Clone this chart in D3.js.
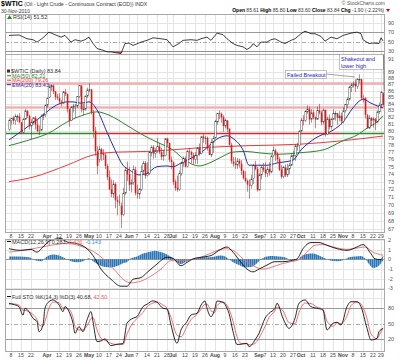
<!DOCTYPE html>
<html><head><meta charset="utf-8">
<script src="https://cdn.jsdelivr.net/npm/d3@7"></script>
<style>body{margin:0;background:#fff}svg{display:block}text{font-family:"Liberation Sans",Arial,sans-serif}</style>
</head><body><svg id="c" width="400" height="360"></svg>
<script>
// ---------- DATA ----------
const startDate = "2010-03-05", endDate = "2010-11-30";
const holidays = ["2010-04-02","2010-05-31","2010-07-05","2010-09-06","2010-11-25"];

const opens = [80.2,81.5,81.9,81.5,82.1,82.1,81.2,79.8,81.7,82.9,82.2,80.7,81.3,81.9,80.9,80.0,80.1,82.2,82.4,83.8,
85.0,86.6,86.8,85.9,85.1,84.9,84.3,84.1,85.8,85.5,83.2,81.5,83.5,83.7,83.7,85.1,86.8,83.2,83.2,85.2,
86.2,86.2,82.7,80.0,77.1,76.0,77.4,76.8,76.6,75.1,73.6,72.0,71.4,72.7,70.6,70.4,69.9,68.8,71.5,74.6,
74.0,72.6,72.9,74.6,71.5,71.4,72.0,74.4,75.5,73.8,74.1,76.9,77.7,76.8,77.2,77.8,77.0,76.4,76.5,78.9,
78.3,75.9,75.6,73.0,72.2,72.0,74.1,75.5,76.1,75.0,77.1,77.0,76.6,76.0,76.5,77.6,76.8,79.2,79.0,79.0,
77.5,76.6,78.4,79.0,81.3,82.6,82.5,82.0,80.7,81.5,80.3,78.0,75.7,75.4,75.2,75.8,75.4,74.4,73.5,73.1,
72.6,72.5,73.4,75.2,74.7,71.9,73.9,74.9,74.6,74.1,74.7,74.3,76.5,77.2,76.8,76.0,74.6,73.7,74.9,73.9,
74.7,75.2,76.5,76.5,77.9,77.9,80.0,81.6,81.5,82.8,83.2,81.7,82.7,82.0,81.7,83.0,82.7,81.3,83.1,79.5,
81.8,80.6,81.7,82.5,82.6,81.9,82.2,81.4,83.0,83.9,84.7,86.5,86.9,87.1,86.7,87.8,87.8,84.9,84.9,82.3,
80.4,81.9,81.5,81.7,81.3,82.8,83.8,85.6];
const highs = [81.8,81.9,82.2,82.5,82.4,82.6,81.3,81.9,83.2,83.1,82.4,81.7,82.0,82.2,81.6,80.8,82.4,82.6,83.9,85.0,
87.0,87.0,87.0,86.0,85.5,85.6,84.6,86.0,86.3,85.6,83.3,83.7,84.0,84.0,85.2,86.9,86.9,84.0,85.3,86.5,
87.2,86.3,83.1,80.6,77.8,77.9,77.6,77.4,76.9,75.4,74.5,73.3,73.2,72.9,71.1,71.3,70.3,72.2,74.9,75.7,
75.0,73.3,75.2,75.0,72.6,72.2,75.2,75.8,75.8,75.6,77.1,77.9,78.0,77.6,79.0,78.3,77.6,77.3,79.0,79.0,
78.3,76.4,75.7,73.3,73.8,74.5,75.7,76.4,76.4,77.3,77.6,77.2,76.9,77.0,77.7,78.2,79.3,79.6,79.3,79.2,
77.9,78.8,79.3,81.6,82.6,83.0,82.7,82.3,81.8,81.6,80.4,78.3,76.3,76.3,76.2,76.1,75.9,74.6,74.4,73.3,
73.3,73.9,75.4,75.8,75.0,74.1,75.2,75.5,75.6,75.0,75.6,76.6,77.8,77.5,77.0,76.3,75.2,75.1,75.3,75.4,
75.5,76.7,77.2,78.1,78.3,80.1,81.9,82.3,83.0,83.8,83.6,83.2,83.1,82.1,83.6,84.0,83.0,83.3,83.1,82.1,
82.4,81.9,83.2,82.9,82.6,82.9,82.7,83.5,84.0,85.0,86.8,87.2,87.5,87.8,88.0,88.6,87.9,85.3,85.0,82.5,
82.3,82.0,82.0,81.9,83.0,84.2,86.0,85.8];
const lows = [80.0,80.9,81.0,80.9,81.3,81.1,79.6,79.7,81.6,81.9,80.2,78.8,80.9,80.2,79.8,79.4,80.0,81.6,82.0,83.4,
84.9,86.0,85.5,84.6,84.6,83.9,83.6,84.0,85.2,82.7,80.6,81.4,82.7,81.9,83.4,84.9,82.7,82.3,83.0,84.9,
85.8,82.4,79.0,76.5,74.0,75.6,75.8,75.9,74.7,73.2,71.9,71.0,70.9,69.6,68.7,69.9,67.15,68.6,71.3,73.1,
71.8,71.6,72.6,71.2,70.8,70.8,71.8,74.0,73.4,73.7,73.9,76.4,76.1,76.2,76.9,76.7,75.9,75.8,76.4,77.8,
75.6,74.7,72.6,71.8,71.7,71.8,73.8,75.0,74.9,74.9,76.2,75.5,75.3,75.4,75.4,76.5,76.7,78.3,78.1,77.2,
76.6,76.3,76.9,78.9,80.9,81.7,81.2,79.9,80.4,79.8,77.9,75.4,75.0,74.7,74.7,74.9,73.9,73.3,72.9,71.7,
70.8,72.1,72.7,74.5,71.7,71.9,73.3,74.3,73.6,73.6,73.8,74.1,76.3,75.8,75.5,74.4,73.4,73.5,73.6,73.6,
74.0,75.1,76.0,75.8,77.2,77.1,79.8,80.8,81.3,82.5,80.9,81.2,81.7,80.4,81.6,82.4,80.8,80.9,79.2,79.4,
80.2,80.2,81.6,81.5,80.9,81.4,80.9,81.1,82.7,83.4,84.5,85.8,86.5,85.8,86.3,87.2,84.6,84.2,81.8,80.3,
80.3,80.7,80.5,80.1,81.1,82.5,83.5,83.6];
const closes = [81.50,81.87,81.49,82.09,82.11,81.24,79.80,81.70,82.93,82.20,80.68,81.25,81.91,80.91,80.00,80.00,82.17,82.37,83.76,84.87,
86.62,86.84,85.88,85.06,84.92,84.34,84.05,85.84,85.51,83.24,81.45,83.45,83.68,83.70,85.12,86.84,83.21,83.22,85.17,86.15,
86.19,82.74,79.97,77.11,75.11,77.40,76.80,76.60,75.10,73.60,72.00,71.40,72.70,70.60,70.40,70.30,68.75,71.50,74.55,73.97,
72.58,72.86,74.61,71.51,71.44,71.99,74.38,75.48,73.78,74.12,76.94,77.67,76.79,77.18,77.82,77.01,76.35,76.51,78.86,78.26,
75.94,75.63,72.95,72.14,71.98,74.07,75.45,76.09,75.00,77.14,77.04,76.62,76.01,76.54,77.58,76.79,79.16,78.98,78.98,77.50,
76.63,78.36,78.95,81.34,82.55,82.49,81.96,80.70,81.48,80.25,78.02,75.74,75.39,75.24,75.77,75.42,74.43,73.46,73.10,72.63,
72.52,73.36,75.17,74.70,71.92,73.91,74.91,74.60,74.09,74.67,74.25,76.45,77.19,76.80,76.02,74.57,73.66,74.86,73.86,74.71,
75.18,76.49,76.53,77.86,77.86,79.97,81.58,81.47,82.82,83.23,81.67,82.66,81.97,81.67,83.01,82.69,81.25,83.08,79.49,81.77,
80.56,81.69,82.52,82.55,81.94,82.18,81.43,82.95,83.90,84.69,86.49,86.85,87.06,86.72,87.81,87.81,84.88,84.86,82.34,80.44,
81.85,81.51,81.74,81.25,82.79,83.76,85.73,83.84];

// moving averages (bar index, value)
const ma50Idx = [0,10,20,29,37,44,50,59,67,74,82,88,95,101,106,112,118,125,135,145,157,167,174,179,184,187];
const ma50Val = [77.9,78.7,79.7,81.3,82.3,82.8,82.3,80.8,79.4,78.4,77.3,75.9,75.1,75.6,76.3,77.0,77.1,76.9,76.7,76.9,77.3,78.6,79.4,80.4,81.3,82.21];
const ma200Idx = [0,12,29,42,54,70,95,120,145,167,187];
const ma200Val = [73.0,73.6,75.2,76.6,77.0,77.1,77.6,77.9,78.1,78.6,79.26];
const ema20Idx = [0,17,22,29,32,36,40,44,49,53,57,60,65,69,74,79,82,86,92,96,100,105,109,113,117,120,129,134,142,146,154,162,167,172,176,177,181,186,187];
const ema20Val = [78.7,82.3,83.5,84.3,84.3,84.1,84.3,83.1,79.8,77.3,75.2,74.6,73.9,74.1,75.0,75.1,75.0,75.5,76.3,76.9,77.9,79.0,79.3,78.7,77.3,75.2,75.2,75.5,75.9,77.3,79.1,80.1,81.3,83.4,84.6,84.7,84.1,83.5,83.43];

// RSI(14)
const rsiIdx = [0,5,9,12,14,17,20,23,26,28,31,33,36,38,40,42,44,47,49,51,53,56,58,60,62,66,69,72,76,79,82,85,87,91,94,96,99,101,104,107,109,112,114,117,119,121,122,124,126,129,131,133,136,138,141,143,146,148,151,153,156,158,161,164,167,171,174,176,177,180,182,185,186,187];
const rsiVal = [63,64,56,54,49,58,70,64.5,59.5,63,49,54,51,54,59.5,46,35.5,32,28.5,28.5,27,25,46,47,42,49,52.7,58,56,54,39,46,52.7,54,52.7,56,59.5,52.7,67.8,64.5,56,46,42,39,33.5,39,46,39,49,49,54,56,49,46,52.7,56,66.6,72,66.6,66.6,61,51,59.5,56,63,67.8,70,66.6,54,46,47,46,58,51.52];

// MACD(12,26,9)
const macdIdx = [0,6,11,14,17,21,26,29,34,39,42,46,51,56,59,62,66,69,74,79,82,86,89,92,96,101,105,109,112,116,119,122,125,129,133,137,141,144,147,151,155,159,164,169,174,177,181,183,186,187];
const macdVal = [1.1,0.93,1.03,0.74,1.28,1.99,2.16,1.8,1.63,1.1,0.39,-1.02,-2.08,-2.8,-2.8,-2.08,-1.9,-1.38,-0.49,0.21,0.1,-0.67,-0.32,0.04,0.21,0.39,0.93,1.28,0.74,-0.32,-1.02,-1.31,-1.02,-0.6,-0.25,-0.25,-0.14,0.04,1.1,1.74,1.74,1.46,1.1,0.93,1.28,1.53,0.57,0.04,-0.03,0.283];
const sigIdx = [0,12,21,29,37,44,49,54,57,61,66,71,76,81,86,91,96,102,108,112,117,122,127,131,136,141,145,149,153,157,162,169,174,178,182,187];
const sigVal = [0.74,1.1,1.46,1.64,1.28,0.57,-0.32,-1.38,-2.08,-2.44,-2.27,-1.74,-1.02,-0.14,-0.14,-0.03,0.21,0.74,1.1,0.93,0.04,-0.67,-1.02,-0.85,-0.49,-0.25,-0.03,0.74,1.46,1.53,1.28,1.03,1.17,1.28,0.74,0.426];
const histIdx = [0,5,10,13,16,19,22,25,28,31,34,37,40,42,45,48,51,54,57,59,61,64,67,70,73,76,79,82,84,86,88,91,94,97,100,103,106,108,110,112,115,118,121,124,126,129,132,135,138,140,142,144,146,149,152,155,158,161,164,167,170,173,176,178,180,182,184,186,187];
const histVal = [0.3,0.3,0.2,-0.1,-0.2,0.3,0.5,0.4,0.1,-0.2,-0.3,-0.2,0.1,-0.2,-0.6,-0.8,-0.85,-0.7,-0.4,-0.3,0.1,0.3,0.6,0.75,0.9,0.75,0.5,0.1,-0.3,-0.5,-0.3,-0.05,0.1,0.25,0.2,0.3,0.4,0.3,0.0,-0.3,-0.6,-0.85,-0.8,-0.4,0.0,0.3,0.35,0.3,0.2,0.0,-0.1,-0.1,0.3,0.55,0.6,0.4,0.1,-0.15,-0.2,-0.1,0.2,0.3,0.35,0.1,-0.5,-0.9,-0.8,-0.4,-0.14];

// Full Stochastics %K(14,3) %D(3)
const stoIdx = [0,2,5,7,8,10,12,14,15,17,18,20,22,25,27,28,30,32,33,35,37,39,41,42,44,46,48,51,54,57,59,62,64,67,69,72,74,77,79,81,84,86,89,91,94,96,98,99,101,103,104,107,109,110,112,114,116,119,120,123,125,128,130,133,134,137,140,143,145,148,151,154,157,159,162,164,166,169,171,174,176,179,181,184,185,187];
const stoK = [89.6,87.6,83,66.7,80,73.3,60.6,54,34.6,47.6,80,92.8,96.1,86.5,73.5,83.2,73.5,51,31.5,44.5,34.8,57.3,73.5,54,15.5,16.8,20.6,7.7,10.4,11.6,51,60.6,63.8,83.2,87.8,94.3,91.7,80,78.6,47.6,12.2,38,54,67,70.2,86,94,80,63.6,80,94,91.5,80,70,35,10,10.3,12.2,5.6,18.6,31.5,60.5,70.2,80,89.6,60.5,41.2,60.5,89.6,96,83,80,76.6,38,50.9,52.8,47.6,83,92.6,92.6,83,41.2,18.6,21.9,34.6,40.68];
const stoD = [88,88.5,86,76,76,73,68,58,48,45,55,80,92,91,80,80,78,62,45,38,38,46,60,62,38,22,18,12,10,10,30,52,60,72,83,90,92,86,80,62,28,25,45,58,68,78,88,88,75,72,85,92,86,78,55,25,12,11,9,12,22,45,62,75,82,75,52,50,72,90,89,82,78,55,45,52,50,65,85,92,88,60,30,21,27,42.5];

// axis labels
const priceTicks = [67,68,69,70,71,72,73,74,75,76,77,78,79,80,81,82,83,84,85,86,87,88,89,91];
const rsiTicks = [90,70,50,30];
const macdTicks = [2,1,0,-1,-2,-3];
const stoTicks = [80,50,20];
const tickDates = ["2010-03-08","2010-03-15","2010-03-22","2010-04-01","2010-04-12","2010-04-19","2010-04-26","2010-05-03","2010-05-10","2010-05-17","2010-05-24","2010-06-01","2010-06-07","2010-06-14","2010-06-21","2010-06-28","2010-07-01","2010-07-12","2010-07-19","2010-07-26","2010-08-02","2010-08-09","2010-08-16","2010-08-23","2010-09-01","2010-09-07","2010-09-13","2010-09-20","2010-09-27","2010-10-01","2010-10-11","2010-10-18","2010-10-25","2010-11-01","2010-11-08","2010-11-15","2010-11-22","2010-11-29"];
const tickLabels = ["8","15","22","Apr","12","19","26","May","10","17","24","Jun","7","14","21","28","Jul","12","19","26","Aug","9","16","23","Sep","7","13","20","27","Oct","11","18","25","Nov","8","15","22","29"];
// horizontal annotation levels
const levelPink = [87.15, 83.45];
const levelLine = 79.75;

// ---------- BUILD ----------
const fmt = d3.utcFormat("%Y-%m-%d");
const dates = [];
for (let d = new Date(startDate + "T00:00:00Z"); fmt(d) <= endDate; d = new Date(d.getTime() + 864e5)) {
  const wd = d.getUTCDay(), s = fmt(d);
  if (wd !== 0 && wd !== 6 && !holidays.includes(s)) dates.push(s);
}
const svg = d3.select("#c");
const PL = 5, PR = 384;
const P = {rsi:[14,54], main:[54,232], macd:[239,289], sto:[289,351]};
const x = d3.scalePoint().domain(dates).range([9, 383]);
const xi = i => x(dates[i]);
const yP = d3.scaleLog().domain([66.67, 91.9]).range([232, 54]);
const yR = d3.scaleLinear().domain([24, 108]).range([54, 14]);
const yM = d3.scaleLinear().domain([-3.09, 2.11]).range([289, 239]);
const yS = d3.scaleLinear().domain([-2.7, 117.2]).range([351, 289]);

const gridC = "#e4e4e4", borderC = "#a8a8a8";
function vgrid(top, bottom) {
  svg.append("g").selectAll("line").data(tickDates).join("line")
    .attr("x1", d => Math.round(x(d)) + 0.5).attr("x2", d => Math.round(x(d)) + 0.5)
    .attr("y1", top).attr("y2", bottom).attr("stroke", gridC).attr("stroke-width", 1);
}
function hline(y, x1, x2, color, w, dash) {
  const l = svg.append("line").attr("x1", x1).attr("x2", x2).attr("y1", Math.round(y) + 0.5).attr("y2", Math.round(y) + 0.5)
    .attr("stroke", color).attr("stroke-width", w);
  if (dash) l.attr("stroke-dasharray", dash);
  return l;
}
function border(top, bottom) {
  svg.append("rect").attr("x", PL + 0.5).attr("y", top + 0.5).attr("width", PR - PL).attr("height", bottom - top)
    .attr("fill", "none").attr("stroke", borderC);
}
function rlabels(ticks, scale, fmtf) {
  svg.append("g").selectAll("text").data(ticks).join("text")
    .attr("x", 388).attr("y", d => scale(d) + 2).attr("font-size", 5.5).attr("fill", "#555")
    .text(d => fmtf ? fmtf(d) : d);
}
function txt(xp, yp, s, size, color, weight, anchor) {
  return svg.append("text").attr("x", xp).attr("y", yp).attr("font-size", size).attr("fill", color || "#000")
    .attr("font-weight", weight || "normal").attr("text-anchor", anchor || "start").text(s);
}
const pairs = (a, b) => a.map((v, k) => [v, b[k]]);

// ---------- HEADER ----------
const t1 = svg.append("text").attr("x", 1).attr("y", 6).attr("font-size", 5.2).attr("fill", "#333");
t1.append("tspan").attr("font-weight", "bold").attr("font-size", 7).attr("fill", "#000").text("$WTIC");
t1.append("tspan").text(" (Oil - Light Crude - Continuous Contract (EOD)) INDX");
txt(1, 12.5, "30-Nov-2010", 5, "#333");
txt(385, 5, "© StockCharts.com", 5, "#555", "normal", "end");
const t2 = svg.append("text").attr("x", 384).attr("y", 11.5).attr("font-size", 5).attr("fill", "#333").attr("text-anchor", "end");
[["Open", " 85.61 "], ["High", " 85.80 "], ["Low", " 83.60 "], ["Close", " 83.84 "], ["Chg", " -1.90 (-2.22%)"]].forEach(([a, b]) => {
  t2.append("tspan").attr("font-weight", "bold").attr("fill", "#000").text(a);
  t2.append("tspan").text(b);
});
svg.append("path").attr("d", "M386,9 L390,9 L388,12 Z").attr("fill", "#d00");

// ---------- RSI PANEL ----------
vgrid(P.rsi[0], P.rsi[1]);
hline(yR(90), PL, PR, gridC, 1);
hline(yR(70), PL, PR, "#999", 1);
hline(yR(30), PL, PR, "#999", 1);
hline(yR(50), PL, PR, "#aaa", 1, "4,2,1,2");
const rsiData = pairs(rsiIdx, rsiVal);
const defs = svg.append("defs");
defs.append("clipPath").attr("id", "rLow").append("rect").attr("x", PL).attr("y", yR(30)).attr("width", PR - PL).attr("height", 40);
defs.append("clipPath").attr("id", "rHigh").append("rect").attr("x", PL).attr("y", 0).attr("width", PR - PL).attr("height", yR(70));
svg.append("path").datum(rsiData).attr("clip-path", "url(#rLow)")
  .attr("d", d3.area().x(d => xi(d[0])).y0(yR(30)).y1(d => yR(d[1]))).attr("fill", "#e05050");
svg.append("path").datum(rsiData).attr("clip-path", "url(#rHigh)")
  .attr("d", d3.area().x(d => xi(d[0])).y0(yR(70)).y1(d => yR(d[1]))).attr("fill", "#3a9ab8");
svg.append("path").datum(rsiData).attr("d", d3.line().x(d => xi(d[0])).y(d => yR(d[1])))
  .attr("fill", "none").attr("stroke", "#111").attr("stroke-width", 0.8);
border(P.rsi[0], P.rsi[1]);
rlabels(rsiTicks, yR);
svg.append("path").attr("d", "M7,19 L9.5,15 L12,19 Z").attr("fill", "#2a8a2a");
txt(13, 19, "RSI(14) 51.52", 5.5, "#333");

// ---------- MAIN PANEL ----------
vgrid(P.main[0], P.main[1]);
svg.append("g").selectAll("line").data(priceTicks).join("line")
  .attr("x1", PL).attr("x2", PR).attr("y1", d => Math.round(yP(d)) + 0.5).attr("y2", d => Math.round(yP(d)) + 0.5)
  .attr("stroke", gridC);
levelPink.forEach(v => hline(yP(v), PL, PR, "#f5b0b0", 2.5));
hline(yP(levelLine), PL, 95, "#2e8b2e", 1.3);
hline(yP(levelLine), 95, 340, "#d42a2a", 1.3);
hline(yP(levelLine), 340, PR, "#2e8b2e", 1.3);

const mline = (idx, val, color, w) => svg.append("path").datum(pairs(idx, val))
  .attr("d", d3.line().x(d => xi(d[0])).y(d => yP(d[1])).curve(d3.curveMonotoneX))
  .attr("fill", "none").attr("stroke", color).attr("stroke-width", w);
mline(ma200Idx, ma200Val, "#ee3b3b", 1);
mline(ma50Idx, ma50Val, "#2f862f", 1);
mline(ema20Idx, ema20Val, "#1f2fb0", 1);

// candles
const cg = svg.append("g");
dates.forEach((d, i) => {
  const cx = Math.round(xi(i));
  const o = opens[i], h = highs[i], l = lows[i], c = closes[i];
  const prev = i > 0 ? closes[i - 1] : o;
  const col = c < prev ? "#d41c1c" : "#222";
  cg.append("line").attr("x1", cx + 0.5).attr("x2", cx + 0.5).attr("y1", yP(h)).attr("y2", yP(l))
    .attr("stroke", col).attr("stroke-width", 0.8).attr("stroke-opacity", c < prev ? 0.75 : 0.55);
  const yt = yP(Math.max(o, c)), yb = yP(Math.min(o, c));
  if (c < o) {
    cg.append("rect").attr("x", cx - 0.25).attr("y", yt).attr("width", 1.6).attr("height", Math.max(0.8, yb - yt)).attr("fill", col);
  } else {
    cg.append("rect").attr("x", cx - 0.2).attr("y", yt).attr("width", 1.5).attr("height", Math.max(0.8, yb - yt))
      .attr("fill", "#fff").attr("stroke", col).attr("stroke-width", 0.5).attr("stroke-opacity", 0.8);
  }
});
border(P.main[0], P.main[1]);
rlabels(priceTicks, yP);

// legend
svg.append("rect").attr("x", 7).attr("y", 69.5).attr("width", 3).attr("height", 3).attr("fill", "#333");
txt(11, 73, "$WTIC (Daily) 83.84", 5.5, "#333");
[["MA(50) 82.21", "#2f862f", 77.5], ["MA(200) 79.26", "#ee3b3b", 82], ["EMA(20) 83.43", "#1f2fb0", 86.5]].forEach(([s, c, yy]) => {
  svg.append("line").attr("x1", 7).attr("x2", 11).attr("y1", yy - 1.8).attr("y2", yy - 1.8).attr("stroke", c).attr("stroke-width", 1);
  txt(12, yy, s, 5.5, c);
});

// annotations
svg.append("line").attr("x1", 326).attr("y1", 74).attr("x2", 355).attr("y2", 77).attr("stroke", "#666").attr("stroke-width", 0.6);
svg.append("rect").attr("x", 285.5).attr("y", 70.5).attr("width", 41).attr("height", 8).attr("fill", "#fff").attr("stroke", "#999").attr("stroke-width", 0.6);
txt(287, 76.5, "Failed Breakout", 5.5, "#1a1ac8");
svg.append("rect").attr("x", 339.5).attr("y", 54.5).attr("width", 44).attr("height", 15).attr("fill", "#fff").attr("stroke", "#999").attr("stroke-width", 0.6);
txt(341, 60.5, "Shakeout and", 5.5, "#1a1ac8");
txt(341, 67.5, "lower high", 5.5, "#1a1ac8");
svg.append("line").attr("x1", 383.5).attr("y1", 55).attr("x2", 384).attr("y2", 91).attr("stroke", "#555").attr("stroke-width", 0.6);

// date labels (under main and bottom)
function dateLabels(yy) {
  svg.append("g").selectAll("text").data(tickDates).join("text")
    .attr("x", d => x(d)).attr("y", yy).attr("text-anchor", "middle").attr("font-size", 5.2).attr("fill", "#444")
    .attr("font-weight", (d, k) => isNaN(+tickLabels[k]) ? "bold" : "normal")
    .text((d, k) => tickLabels[k]);
}
dateLabels(238);

// ---------- MACD PANEL ----------
vgrid(P.macd[0], P.macd[1]);
macdTicks.forEach(v => hline(yM(v), PL, PR, gridC, 1));
hline(yM(0), PL, PR, "#999", 1);
const pat = defs.append("pattern").attr("id", "hpat").attr("width", 2).attr("height", 4).attr("patternUnits", "userSpaceOnUse");
pat.append("rect").attr("x", 0).attr("y", 0).attr("width", 1).attr("height", 4).attr("fill", "#2c74b3");
pat.append("rect").attr("x", 1).attr("y", 0).attr("width", 1).attr("height", 4).attr("fill", "#6aa5d6");
svg.append("path").datum(pairs(histIdx, histVal))
  .attr("d", d3.area().x(d => xi(d[0])).y0(yM(0)).y1(d => yM(d[1])).curve(d3.curveMonotoneX)).attr("fill", "url(#hpat)");
svg.append("path").datum(pairs(sigIdx, sigVal))
  .attr("d", d3.line().x(d => xi(d[0])).y(d => yM(d[1])).curve(d3.curveMonotoneX))
  .attr("fill", "none").attr("stroke", "#f06a6a").attr("stroke-width", 0.9);
svg.append("path").datum(pairs(macdIdx, macdVal))
  .attr("d", d3.line().x(d => xi(d[0])).y(d => yM(d[1])).curve(d3.curveMonotoneX))
  .attr("fill", "none").attr("stroke", "#111").attr("stroke-width", 0.9);
border(P.macd[0], P.macd[1]);
rlabels(macdTicks, yM);
svg.append("line").attr("x1", 7).attr("x2", 11).attr("y1", 241.5).attr("y2", 241.5).attr("stroke", "#111");
const tm = svg.append("text").attr("x", 12).attr("y", 243.5).attr("font-size", 5.5).attr("fill", "#333");
tm.append("tspan").text("MACD(12,26,9) 0.283, ");
tm.append("tspan").attr("fill", "#f06a6a").text("0.426, ");
tm.append("tspan").attr("fill", "#4a8ac4").text("-0.143");

// ---------- STOCH PANEL ----------
vgrid(P.sto[0], P.sto[1]);
hline(yS(100), PL, PR, gridC, 1);
hline(yS(80), PL, PR, "#999", 1);
hline(yS(20), PL, PR, "#999", 1);
hline(yS(50), PL, PR, "#aaa", 1, "4,2,1,2");
svg.append("path").datum(pairs(stoIdx, stoD))
  .attr("d", d3.line().x(d => xi(d[0])).y(d => yS(d[1])).curve(d3.curveMonotoneX))
  .attr("fill", "none").attr("stroke", "#f25c5c").attr("stroke-width", 0.9);
svg.append("path").datum(pairs(stoIdx, stoK))
  .attr("d", d3.line().x(d => xi(d[0])).y(d => yS(d[1])).curve(d3.curveMonotoneX))
  .attr("fill", "none").attr("stroke", "#111").attr("stroke-width", 0.9);
border(P.sto[0], P.sto[1]);
rlabels(stoTicks, yS);
svg.append("line").attr("x1", 7).attr("x2", 11).attr("y1", 296.5).attr("y2", 296.5).attr("stroke", "#111");
const ts = svg.append("text").attr("x", 12).attr("y", 298.5).attr("font-size", 5.5).attr("fill", "#333");
ts.append("tspan").text("Full STO %K(14,3) %D(3) 40.68, ");
ts.append("tspan").attr("fill", "#f25c5c").text("42.50");
dateLabels(357);
</script></body></html>
